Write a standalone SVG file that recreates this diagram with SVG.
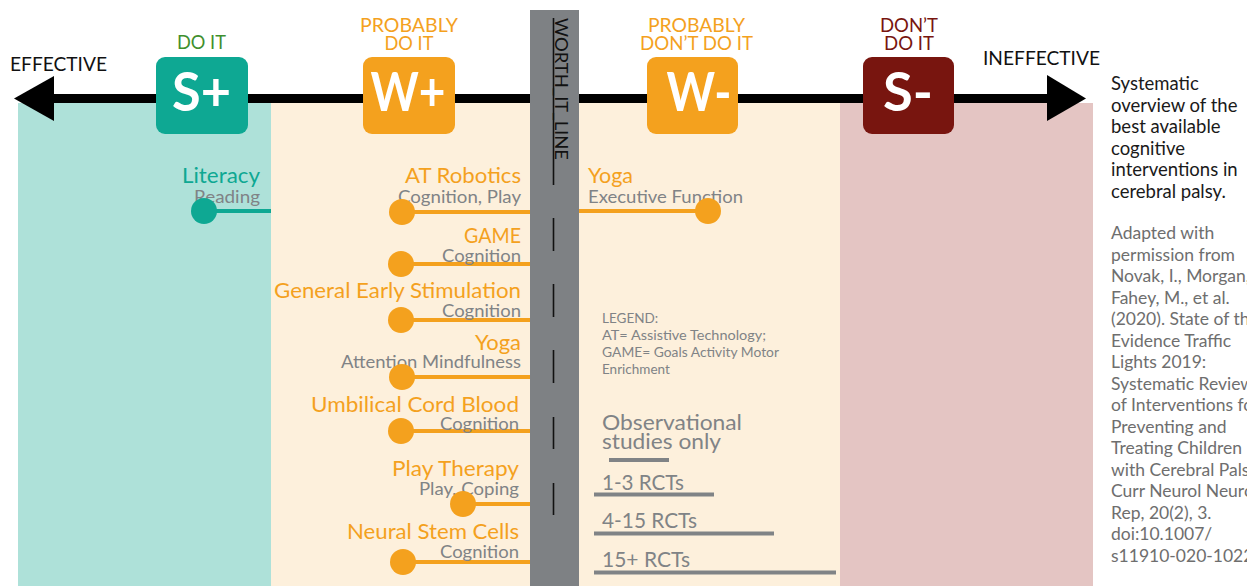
<svg xmlns="http://www.w3.org/2000/svg" width="1247" height="586" viewBox="0 0 1247 586">
  <style>
    text { font-family: Lato, "Noto Sans", "Liberation Sans", sans-serif; }
    .hdr { font-size: 19px; text-anchor: middle; }
    .axis { font-size: 19px; fill: #111; }
    .badge { font-size: 54px; font-weight: 700; fill: #fff; text-anchor: middle; }
    .name { font-size: 22px; fill: #F4A11E; text-anchor: end; }
    .sub { font-size: 17px; fill: #808386; text-anchor: end; }
    .rname { font-size: 22px; fill: #F4A11E; }
    .rsub { font-size: 17px; fill: #808386; }
    .stem { stroke: #F4A11E; stroke-width: 4; fill: none; }
    .dot { fill: #F4A11E; }
    .legend { font-size: 13.5px; fill: #808386; }
    .key { font-size: 21px; fill: #808386; }
    .bar { stroke: #808386; stroke-width: 4; }
    .dash { stroke: #111; stroke-width: 1.6; }
    .side { font-size: 18.5px; fill: #1a1a1a; }
    .cite { font-size: 17.5px; fill: #6e6e6e; }
  </style>

  <!-- zone backgrounds -->
  <g id="zones">
    <rect x="18" y="103" width="253" height="483" fill="#AEE1D9"/>
    <rect x="271" y="103" width="569" height="483" fill="#FDF0DC"/>
    <rect x="840" y="103" width="253" height="483" fill="#E4C5C3"/>
  </g>

  <!-- effectiveness axis -->
  <g id="axis">
    <rect x="50" y="94" width="1000" height="9" fill="#000"/>
    <polygon points="14,98.5 54,76 54,121" fill="#000"/>
    <polygon points="1086,98.5 1047,75 1047,121" fill="#000"/>
    <text class="axis" x="10" y="71" textLength="97" lengthAdjust="spacingAndGlyphs">EFFECTIVE</text>
    <text class="axis" x="983" y="65" textLength="117" lengthAdjust="spacingAndGlyphs">INEFFECTIVE</text>
  </g>

  <!-- worth-it line -->
  <g id="worth-line">
    <rect x="530" y="10" width="49" height="576" fill="#7E8184"/>
    <text transform="translate(555,18) rotate(90)" font-size="17" fill="#111" textLength="142" lengthAdjust="spacingAndGlyphs">WORTH_IT_LINE</text>
    <line class="dash" x1="553.5" y1="18" x2="553.5" y2="185"/>
    <line class="dash" x1="553.5" y1="218" x2="553.5" y2="251"/>
    <line class="dash" x1="553.5" y1="284" x2="553.5" y2="317"/>
    <line class="dash" x1="553.5" y1="350" x2="553.5" y2="383"/>
    <line class="dash" x1="553.5" y1="417" x2="553.5" y2="449"/>
    <line class="dash" x1="553.5" y1="483" x2="553.5" y2="515"/>
  </g>

  <!-- recommendation badges -->
  <g id="badge-s-plus">
    <text class="hdr" x="201.5" y="49" fill="#3F8F2E" textLength="49" lengthAdjust="spacingAndGlyphs">DO IT</text>
    <rect x="156" y="57" width="92" height="77" rx="9" fill="#0EA893"/>
    <text class="badge" x="201.5" y="111" textLength="59" lengthAdjust="spacingAndGlyphs">S+</text>
  </g>
  <g id="badge-w-plus">
    <text class="hdr" x="409" y="32" fill="#F4A11E" textLength="98" lengthAdjust="spacingAndGlyphs">PROBABLY</text>
    <text class="hdr" x="409" y="50" fill="#F4A11E" textLength="49" lengthAdjust="spacingAndGlyphs">DO IT</text>
    <rect x="363" y="57" width="92" height="77" rx="9" fill="#F4A11E"/>
    <text class="badge" x="408" y="111" textLength="75" lengthAdjust="spacingAndGlyphs">W+</text>
  </g>
  <g id="badge-w-minus">
    <text class="hdr" x="696.5" y="32" fill="#F4A11E" textLength="97" lengthAdjust="spacingAndGlyphs">PROBABLY</text>
    <text class="hdr" x="696.5" y="50" fill="#F4A11E" textLength="113" lengthAdjust="spacingAndGlyphs">DON’T DO IT</text>
    <rect x="647" y="57" width="91" height="77" rx="9" fill="#F4A11E"/>
    <text class="badge" x="699" y="111" textLength="65" lengthAdjust="spacingAndGlyphs">W-</text>
  </g>
  <g id="badge-s-minus">
    <text class="hdr" x="909" y="32" fill="#78150F" textLength="58" lengthAdjust="spacingAndGlyphs">DON’T</text>
    <text class="hdr" x="909" y="50" fill="#78150F" textLength="50" lengthAdjust="spacingAndGlyphs">DO IT</text>
    <rect x="863" y="57" width="91" height="77" rx="9" fill="#78150F"/>
    <text class="badge" x="908" y="111" textLength="50" lengthAdjust="spacingAndGlyphs">S-</text>
  </g>

  <!-- stems joining each intervention to its zone edge -->
  <g id="connectors">
    <line x1="204" y1="211" x2="271" y2="211" stroke="#0EA893" stroke-width="4"/>
    <line class="stem" x1="402" y1="212" x2="530" y2="212"/>
    <line class="stem" x1="401" y1="264" x2="530" y2="264"/>
    <line class="stem" x1="401" y1="320" x2="530" y2="320"/>
    <line class="stem" x1="402" y1="377" x2="530" y2="377"/>
    <line class="stem" x1="401" y1="431" x2="530" y2="431"/>
    <line class="stem" x1="463" y1="504" x2="530" y2="504"/>
    <line class="stem" x1="403" y1="562" x2="530" y2="562"/>
    <line class="stem" x1="579" y1="211" x2="708" y2="211"/>
  </g>

  <!-- interventions -->
  <g id="literacy">
    <text x="260" y="183" font-size="22" fill="#0EA893" text-anchor="end" textLength="78" lengthAdjust="spacingAndGlyphs">Literacy</text>
    <text class="sub" x="260" y="203" textLength="66" lengthAdjust="spacingAndGlyphs">Reading</text>
    <circle cx="204" cy="211" r="13" fill="#0EA893"/>
  </g>
  <g id="at-robotics">
    <text class="name" x="521" y="183" textLength="116" lengthAdjust="spacingAndGlyphs">AT Robotics</text>
    <text class="sub" x="521" y="203" textLength="123" lengthAdjust="spacingAndGlyphs">Cognition, Play</text>
    <circle class="dot" cx="402" cy="212" r="13"/>
  </g>
  <g id="game">
    <text class="name" x="521" y="243" textLength="57" lengthAdjust="spacingAndGlyphs">GAME</text>
    <text class="sub" x="521" y="262" textLength="79" lengthAdjust="spacingAndGlyphs">Cognition</text>
    <circle class="dot" cx="401" cy="264" r="13"/>
  </g>
  <g id="general-early-stimulation">
    <text class="name" x="521" y="298" textLength="247" lengthAdjust="spacingAndGlyphs">General Early Stimulation</text>
    <text class="sub" x="521" y="317" textLength="79" lengthAdjust="spacingAndGlyphs">Cognition</text>
    <circle class="dot" cx="401" cy="320" r="13"/>
  </g>
  <g id="yoga-attention">
    <text class="name" x="521" y="350" textLength="46" lengthAdjust="spacingAndGlyphs">Yoga</text>
    <text class="sub" x="521" y="368" textLength="180" lengthAdjust="spacingAndGlyphs">Attention Mindfulness</text>
    <circle class="dot" cx="402" cy="377" r="13"/>
  </g>
  <g id="umbilical-cord-blood">
    <text class="name" x="519" y="412" textLength="208" lengthAdjust="spacingAndGlyphs">Umbilical Cord Blood</text>
    <text class="sub" x="519" y="430" textLength="79" lengthAdjust="spacingAndGlyphs">Cognition</text>
    <circle class="dot" cx="401" cy="431" r="13"/>
  </g>
  <g id="play-therapy">
    <text class="name" x="519" y="476" textLength="127" lengthAdjust="spacingAndGlyphs">Play Therapy</text>
    <text class="sub" x="519" y="495" textLength="100" lengthAdjust="spacingAndGlyphs">Play, Coping</text>
    <circle class="dot" cx="463" cy="504" r="13"/>
  </g>
  <g id="neural-stem-cells">
    <text class="name" x="519" y="539" textLength="172" lengthAdjust="spacingAndGlyphs">Neural Stem Cells</text>
    <text class="sub" x="519" y="558" textLength="79" lengthAdjust="spacingAndGlyphs">Cognition</text>
    <circle class="dot" cx="403" cy="562" r="13"/>
  </g>
  <g id="yoga-executive">
    <text class="rname" x="588" y="183" textLength="45" lengthAdjust="spacingAndGlyphs">Yoga</text>
    <text class="rsub" x="588" y="203" textLength="155" lengthAdjust="spacingAndGlyphs">Executive Function</text>
    <circle class="dot" cx="708" cy="211" r="13"/>
  </g>

  <!-- abbreviations -->
  <g id="legend">
    <text class="legend" x="602" y="323">LEGEND:</text>
    <text class="legend" x="602" y="340" textLength="164" lengthAdjust="spacingAndGlyphs">AT= Assistive Technology;</text>
    <text class="legend" x="602" y="357" textLength="177" lengthAdjust="spacingAndGlyphs">GAME= Goals Activity Motor</text>
    <text class="legend" x="602" y="374">Enrichment</text>
  </g>

  <!-- evidence-strength key -->
  <g id="evidence-key">
    <text class="key" x="602" y="430" textLength="140" lengthAdjust="spacingAndGlyphs">Observational</text>
    <text class="key" x="602" y="449" textLength="119" lengthAdjust="spacingAndGlyphs">studies only</text>
    <line class="bar" x1="609" y1="460" x2="669" y2="460"/>
    <text class="key" x="602" y="490" textLength="82" lengthAdjust="spacingAndGlyphs">1-3 RCTs</text>
    <line class="bar" x1="594" y1="494.5" x2="714" y2="494.5"/>
    <text class="key" x="602" y="528" textLength="95" lengthAdjust="spacingAndGlyphs">4-15 RCTs</text>
    <line class="bar" x1="594" y1="533.5" x2="774" y2="533.5"/>
    <text class="key" x="602" y="567" textLength="88" lengthAdjust="spacingAndGlyphs">15+ RCTs</text>
    <line class="bar" x1="594" y1="572.5" x2="836" y2="572.5"/>
  </g>

  <!-- side note and citation -->
  <g id="summary">
    <text class="side" x="1111" y="90">Systematic</text>
    <text class="side" x="1111" y="111.5">overview of the</text>
    <text class="side" x="1111" y="133">best available</text>
    <text class="side" x="1111" y="154.5">cognitive</text>
    <text class="side" x="1111" y="176">interventions in</text>
    <text class="side" x="1111" y="197.5">cerebral palsy.</text>
  </g>
  <g id="citation">
    <text class="cite" x="1111" y="239">Adapted with</text>
    <text class="cite" x="1111" y="260.5">permission from</text>
    <text class="cite" x="1111" y="282">Novak, I., Morgan, C.,</text>
    <text class="cite" x="1111" y="303.5">Fahey, M., et al.</text>
    <text class="cite" x="1111" y="325">(2020). State of the</text>
    <text class="cite" x="1111" y="346.5">Evidence Traffic</text>
    <text class="cite" x="1111" y="368">Lights 2019:</text>
    <text class="cite" x="1111" y="389.5">Systematic Review</text>
    <text class="cite" x="1111" y="411">of Interventions for</text>
    <text class="cite" x="1111" y="432.5">Preventing and</text>
    <text class="cite" x="1111" y="454">Treating Children</text>
    <text class="cite" x="1111" y="475.5">with Cerebral Palsy.</text>
    <text class="cite" x="1111" y="497">Curr Neurol Neurosci</text>
    <text class="cite" x="1111" y="518.5">Rep, 20(2), 3.</text>
    <text class="cite" x="1111" y="540">doi:10.1007/</text>
    <text class="cite" x="1111" y="561.5">s11910-020-1022-z</text>
  </g>
</svg>
